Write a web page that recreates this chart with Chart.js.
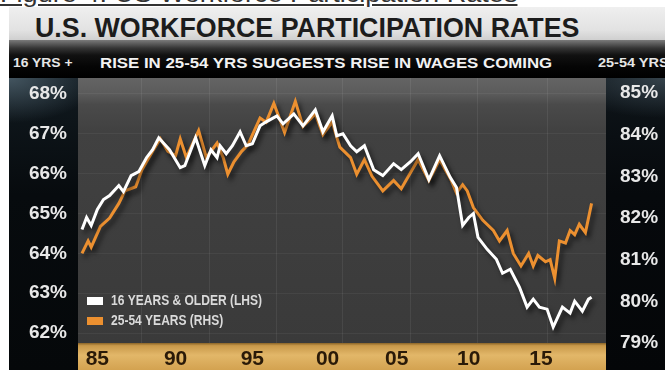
<!DOCTYPE html>
<html>
<head>
<meta charset="utf-8">
<script src="https://cdn.jsdelivr.net/npm/chart.js@4.4.0/dist/chart.umd.min.js"></script>
<style>
body { margin: 0; width: 665px; height: 370px; overflow: hidden; background: #fff; position: relative; font-family: "Liberation Sans", Arial, sans-serif; }
.txt { position: absolute; white-space: nowrap; display: inline-block; transform-origin: 0 0; font-weight: bold; }
#legenda { left: 0; top: -18px; font-size: 24px; line-height: 24px; font-weight: normal; color: #333; text-decoration: underline; }
#faixa { position: absolute; left: 9px; top: 7px; width: 656px; height: 33px; background: linear-gradient(#efefef, #e2e2e2 70%, #cfcfcf); }
#barra { position: absolute; left: 9px; top: 40px; width: 656px; height: 38px; background: linear-gradient(#7a7a7a, #333 22%, #111 40%, #050505 70%, #000); }
#titulo { left: 35px; top: 15px; font-size: 27px; line-height: 27px; color: #1c1c1c; }
#sub { left: 100px; top: 55px; font-size: 15px; line-height: 15px; color: #f2f2f2; }
#esq { left: 13px; top: 57px; font-size: 12px; line-height: 12px; color: #e6e6e6; }
#dir { left: 598px; top: 57px; font-size: 12px; line-height: 12px; color: #e6e6e6; }
#painelE { position: absolute; left: 9px; top: 78px; width: 69px; height: 292px;
  background: radial-gradient(ellipse 90px 45px at 0 0, rgba(80,100,112,0.8), rgba(0,0,0,0) 100%), linear-gradient(#111a20, #070b0e 40%, #05080a); }
#painelD { position: absolute; left: 606px; top: 78px; width: 59px; height: 292px;
  background: radial-gradient(ellipse 110px 40px at 100% 0, rgba(70,86,96,0.7), rgba(0,0,0,0) 100%), linear-gradient(#0e151a, #06090c 40%, #040608); }
#grafico { position: absolute; left: 10px; top: 78px; }
</style>
</head>
<body>
<div id="faixa"></div>
<div id="barra"></div>
<span class="txt" id="legenda">Figure 4: US Workforce Participation Rates</span>
<span class="txt" id="titulo">U.S. WORKFORCE PARTICIPATION RATES</span>
<span class="txt" id="esq">16 YRS +</span>
<span class="txt" id="sub">RISE IN 25-54 YRS SUGGESTS RISE IN WAGES COMING</span>
<span class="txt" id="dir">25-54 YRS</span>
<div id="painelE"></div>
<div id="painelD"></div>
<canvas id="grafico" width="655" height="292"></canvas>
<script>
// 16 anos ou mais (eixo esquerdo)
const anosBranco = [1985.0, 1985.3, 1985.6, 1986.0, 1986.4, 1986.8, 1987.4, 1987.7, 1988.2, 1988.7,
  1989.2, 1989.6, 1990.0, 1990.7, 1991.4, 1991.7, 1992.4, 1993.0, 1993.4, 1993.8,
  1994.0, 1994.4, 1994.8, 1995.3, 1995.7, 1996.1, 1996.6, 1997.0, 1997.7, 1998.1,
  1998.8, 1999.4, 2000.2, 2000.7, 2001.3, 2001.6, 2002.0, 2002.5, 2002.9, 2003.4,
  2004.0, 2004.6, 2005.3, 2005.8, 2006.4, 2006.9, 2007.6, 2008.3, 2009.0, 2009.4,
  2009.8, 2010.2, 2010.5, 2010.8, 2011.4, 2012.0, 2012.4, 2012.9, 2013.5, 2014.0,
  2014.4, 2014.8, 2015.3, 2015.7, 2016.3, 2016.8, 2017.1, 2017.6, 2018.0, 2018.2];
const valoresBranco = [64.6, 64.9, 64.7, 65.1, 65.35, 65.45, 65.7, 65.55, 65.95, 66.05,
  66.4, 66.6, 66.9, 66.6, 66.15, 66.2, 66.9, 66.2, 66.6, 66.4,
  66.7, 66.5, 66.7, 67.05, 66.7, 66.75, 67.2, 67.3, 67.45, 67.25,
  67.5, 67.2, 67.6, 67.05, 67.45, 66.95, 67.0, 66.7, 66.55, 66.7,
  66.1, 65.95, 66.25, 66.1, 66.3, 66.5, 65.85, 66.45, 65.9, 65.65,
  64.7, 64.9, 65.0, 64.4, 64.1, 63.85, 63.5, 63.6, 63.15, 62.65,
  62.85, 62.65, 62.6, 62.15, 62.65, 62.5, 62.8, 62.55, 62.85, 62.9];

// 25-54 anos (eixo direito)
const anosLaranja = [1985.0, 1985.4, 1985.6, 1986.2, 1986.8, 1987.4, 1987.8, 1988.5, 1988.9, 1989.6,
  1990.1, 1990.6, 1991.1, 1991.4, 1991.8, 1992.6, 1993.1, 1993.8, 1994.2, 1994.5,
  1994.9, 1995.4, 1995.8, 1996.6, 1997.0, 1997.5, 1998.2, 1998.9, 1999.4, 2000.2,
  2000.7, 2001.3, 2001.8, 2002.5, 2002.9, 2003.4, 2003.9, 2004.6, 2005.3, 2005.8,
  2006.5, 2006.9, 2007.6, 2008.3, 2009.0, 2009.4, 2009.8, 2010.1, 2010.5, 2011.1,
  2011.8, 2012.2, 2012.7, 2013.1, 2013.6, 2014.1, 2014.4, 2014.7, 2015.2, 2015.5,
  2015.8, 2016.1, 2016.5, 2016.8, 2017.1, 2017.4, 2017.8, 2018.2];
const valoresLaranja = [81.15, 81.45, 81.3, 81.8, 82.0, 82.35, 82.65, 82.75, 83.15, 83.6,
  83.9, 83.6, 83.5, 83.9, 83.45, 84.1, 83.45, 83.8, 83.45, 83.05,
  83.35, 83.6, 83.75, 84.4, 84.3, 84.75, 84.05, 84.8, 84.2, 84.5,
  84.0, 84.3, 83.7, 83.45, 83.05, 83.4, 83.0, 82.65, 82.9, 82.7,
  83.15, 83.4, 82.9, 83.4, 82.95, 82.6, 82.8, 82.65, 82.25, 81.95,
  81.7, 81.45, 81.7, 81.15, 80.85, 81.15, 80.85, 81.1, 80.95, 81.0,
  80.55, 81.45, 81.4, 81.7, 81.6, 81.85, 81.65, 82.35];

const rotulosAnos = ['85', '90', '95', '00', '05', '10', '15'];
const posicoesRotulos = [1986, 1991.1, 1996.1, 2001, 2005.5, 2010.2, 2014.9];
const linhasGrade = [1988.9, 1993.3, 1997.7, 2002.0, 2006.4, 2010.8, 2015.3];
const ticksEsquerda = [62, 63, 64, 65, 66, 67, 68];
const ticksDireita = [79, 80, 81, 82, 83, 84, 85];

function ajustarLargura(id, largura) {
    const el = document.getElementById(id);
    el.style.transform = 'scaleX(' + (largura / el.offsetWidth) + ')';
}
ajustarLargura('legenda', 517);
ajustarLargura('titulo', 545);
ajustarLargura('sub', 452);
ajustarLargura('esq', 59);
ajustarLargura('dir', 70);

function pontos(anos, valores) {
    return anos.map((a, i) => ({ x: a, y: valores[i] }));
}

// tira o espaço extra que o Chart.js reserva para os rótulos das pontas
function semPadding(s) {
    s.paddingTop = 0;
    s.paddingBottom = 0;
    s.paddingLeft = 0;
    s.paddingRight = 0;
}

const fundo = {
    id: 'fundo',
    beforeDraw(chart) {
        const { ctx, chartArea: a, height } = chart;
        ctx.save();
        let g = ctx.createLinearGradient(0, a.top, 0, a.bottom);
        g.addColorStop(0, '#646464');
        g.addColorStop(0.06, '#5b5b5b');
        g.addColorStop(0.1, '#4a4a4a');
        g.addColorStop(0.2, '#414141');
        g.addColorStop(1, '#3a3a3a');
        ctx.fillStyle = g;
        ctx.fillRect(a.left, a.top, a.right - a.left, a.bottom - a.top);
        g = ctx.createLinearGradient(0, a.bottom, 0, height);
        g.addColorStop(0, '#8a6428');
        g.addColorStop(0.1, '#c9994a');
        g.addColorStop(0.45, '#e2b769');
        g.addColorStop(1, '#d3a250');
        ctx.fillStyle = g;
        ctx.fillRect(a.left, a.bottom, a.right - a.left, height - a.bottom);
        ctx.restore();
    }
};

const sombra = {
    id: 'sombra',
    beforeDatasetDraw(chart) {
        const c = chart.ctx;
        c.save();
        c.shadowColor = 'rgba(0,0,0,0.6)';
        c.shadowBlur = 5;
        c.shadowOffsetX = 3;
        c.shadowOffsetY = 4;
    },
    afterDatasetDraw(chart) {
        chart.ctx.restore();
    }
};

const legendaInterna = {
    id: 'legendaInterna',
    afterDatasetsDraw(chart) {
        const { ctx, chartArea: a } = chart;
        ctx.save();
        ctx.font = 'bold 14px "Liberation Sans"';
        ctx.textBaseline = 'middle';
        const escala = 151 / ctx.measureText(chart.data.datasets[0].label).width;
        chart.data.datasets.forEach((ds, i) => {
            const topo = a.bottom - 46 + i * 20;
            ctx.fillStyle = ds.borderColor;
            ctx.fillRect(a.left + 9, topo, 16, 8);
            ctx.save();
            ctx.translate(a.left + 33, topo + 4.5);
            ctx.scale(escala, 1);
            ctx.fillStyle = '#dadada';
            ctx.fillText(ds.label, 0, 0);
            ctx.restore();
        });
        ctx.restore();
    }
};

const fonteEixo = { family: 'Liberation Sans', weight: 'bold', size: 19 };

let grafico = new Chart(document.getElementById('grafico'), {
    type: 'line',
    data: {
        datasets: [{
            label: '16 YEARS & OLDER (LHS)',
            data: pontos(anosBranco, valoresBranco),
            borderColor: '#ffffff',
            borderWidth: 3,
            pointRadius: 0,
            tension: 0,
            xAxisID: 'x',
            yAxisID: 'y'
        }, {
            label: '25-54 YEARS (RHS)',
            data: pontos(anosLaranja, valoresLaranja),
            borderColor: '#ec9030',
            borderWidth: 3,
            pointRadius: 0,
            tension: 0,
            xAxisID: 'x',
            yAxisID: 'y2'
        }]
    },
    options: {
        responsive: false,
        animation: false,
        devicePixelRatio: 1,
        layout: { padding: 0 },
        plugins: { legend: { display: false }, tooltip: { enabled: false } },
        scales: {
            x: {
                type: 'linear', min: 1984.74, max: 2019.14, position: 'bottom',
                afterBuildTicks: s => { s.ticks = posicoesRotulos.map(v => ({ value: v })); },
                afterFit: s => { s.height = 27; semPadding(s); },
                ticks: {
                    callback: (v, i) => rotulosAnos[i],
                    color: '#2a1a08',
                    font: { family: 'Liberation Sans', weight: 'bold', size: 21 },
                    padding: 4, maxRotation: 0, autoSkip: false
                },
                grid: { display: false, drawTicks: false },
                border: { display: false }
            },
            xg: {
                type: 'linear', min: 1984.74, max: 2019.14, position: 'top',
                afterBuildTicks: s => { s.ticks = linhasGrade.map(v => ({ value: v })); },
                afterFit: s => { s.height = 0; semPadding(s); },
                ticks: { display: false },
                grid: { color: 'rgba(255,255,255,0.07)', drawTicks: false },
                border: { display: false }
            },
            y: {
                position: 'left', min: 61.75, max: 68.4,
                afterBuildTicks: s => { s.ticks = ticksEsquerda.map(v => ({ value: v })); },
                afterFit: s => { s.width = 68; semPadding(s); },
                ticks: { callback: v => v + '%', color: '#e8e8e8', font: fonteEixo, padding: 11 },
                grid: { color: 'rgba(255,255,255,0.05)', drawTicks: false },
                border: { display: false }
            },
            y2: {
                position: 'right', min: 79, max: 85.36,
                afterBuildTicks: s => { s.ticks = ticksDireita.map(v => ({ value: v })); },
                afterFit: s => { s.width = 59; semPadding(s); },
                ticks: { callback: v => v + '%', color: '#e8e8e8', font: fonteEixo, padding: 14 },
                grid: { display: false, drawTicks: false },
                border: { display: false }
            }
        }
    },
    plugins: [fundo, sombra, legendaInterna]
});
</script>
</body>
</html>
